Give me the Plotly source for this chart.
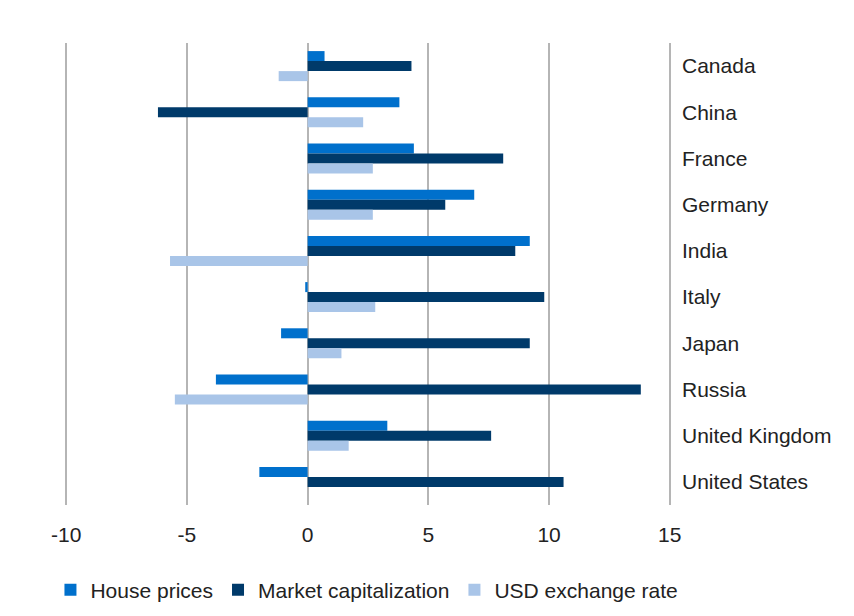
import plotly.graph_objects as go

countries = ["Canada", "China", "France", "Germany", "India", "Italy", "Japan",
             "Russia", "United Kingdom", "United States"]
house_prices = [0.7, 3.8, 4.4, 6.9, 9.2, -0.1, -1.1, -3.8, 3.3, -2.0]
market_cap = [4.3, -6.2, 8.1, 5.7, 8.6, 9.8, 9.2, 13.8, 7.6, 10.6]
usd_rate = [-1.2, 2.3, 2.7, 2.7, -5.7, 2.8, 1.4, -5.5, 1.7, None]
x_ticks = [-10, -5, 0, 5, 10, 15]
x_tick_labels = ["-10", "-5", "0", "5", "10", "15"]

series = [
    ("House prices", house_prices, "#0070CC"),
    ("Market capitalization", market_cap, "#003A6A"),
    ("USD exchange rate", usd_rate, "#A9C5E8"),
]

fig = go.Figure()
for name, vals, color in series:
    fig.add_trace(go.Bar(y=countries, x=vals, name=name, orientation="h",
                         marker=dict(color=color, line=dict(width=0))))

fig.update_layout(
    width=838, height=600,
    margin=dict(l=57, r=175, t=35, b=103, autoexpand=False),
    paper_bgcolor="white", plot_bgcolor="white",
    barmode="group", bargap=0.35, bargroupgap=0,
    font=dict(family="Liberation Sans, Arial, sans-serif", size=20, color="#222"),
    legend=dict(orientation="h", x=-0.024, y=-0.14, yanchor="top", xanchor="left",
                font=dict(size=21), itemwidth=30, tracegroupgap=0,
                traceorder="normal"),
    showlegend=True,
)
fig.update_xaxes(range=[-10.05, 15.05], tickvals=x_ticks, ticktext=x_tick_labels,
                 showgrid=True, automargin=False,
                 gridcolor="#b5b5b5", gridwidth=1.5, zeroline=True,
                 zerolinecolor="#b5b5b5", zerolinewidth=1.5, showline=False,
                 ticks="", ticklabelstandoff=15, tickfont=dict(size=21))
fig.update_yaxes(side="right", autorange="reversed", showgrid=False, automargin=False,
                 showline=False, ticks="", ticklabelstandoff=10,
                 tickfont=dict(size=21))

fig.write_html("out.html")
